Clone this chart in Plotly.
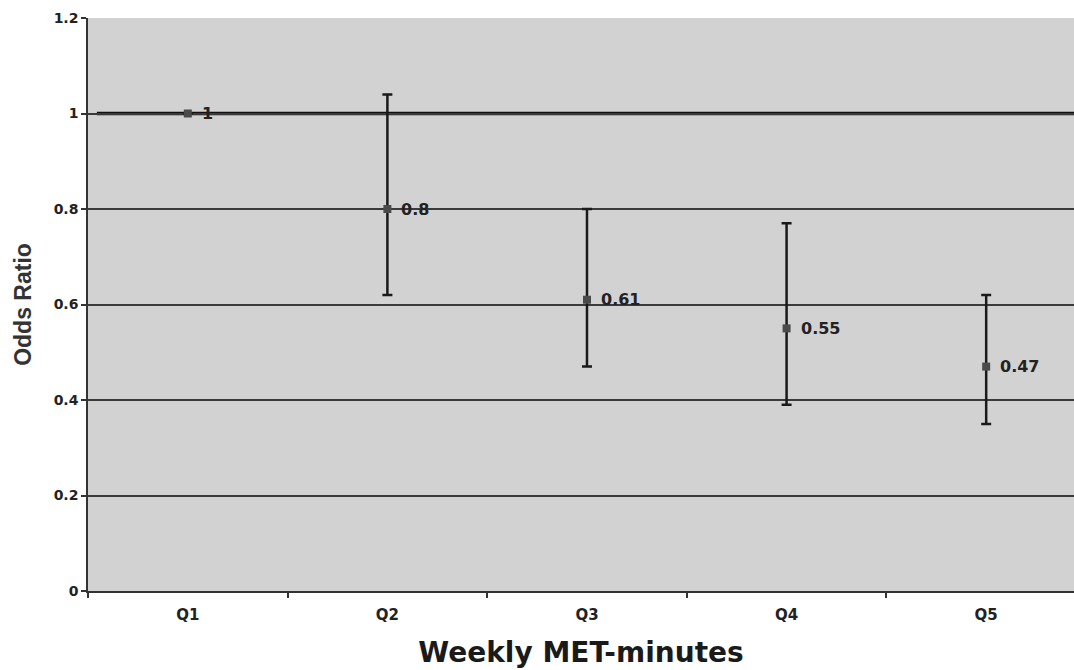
import plotly.graph_objects as go

categories = ["Q1", "Q2", "Q3", "Q4", "Q5"]
odds_ratio = [1.0, 0.80, 0.61, 0.55, 0.47]
ci_upper = [None, 1.04, 0.80, 0.77, 0.62]
ci_lower = [None, 0.62, 0.47, 0.39, 0.35]
point_labels = ["1", "0.8", "0.61", "0.55", "0.47"]
reference_value = 1.0
y_ticks = [0, 0.2, 0.4, 0.6, 0.8, 1.0, 1.2]
y_tick_text = ["0", "0.2", "0.4", "0.6", "0.8", "1", "1.2"]

err_plus = [None if u is None else u - v for u, v in zip(ci_upper, odds_ratio)]
err_minus = [None if l is None else v - l for l, v in zip(ci_lower, odds_ratio)]

HFONT = "DejaVu Sans"
fig = go.Figure()

fig.add_trace(go.Scatter(
    x=categories, y=odds_ratio, mode="markers",
    marker=dict(symbol="square", size=8, color="#4a4a4a"),
    error_y=dict(type="data", symmetric=False, array=err_plus, arrayminus=err_minus,
                 color="#1a1a1a", thickness=2.5, width=5),
    showlegend=False, cliponaxis=False,
))

for c, v, t in zip(categories, odds_ratio, point_labels):
    fig.add_annotation(x=c, y=v, text=t, showarrow=False, xanchor="left",
                       yanchor="middle", xshift=12,
                       font=dict(family=HFONT, size=16, color="#222222", weight="bold"))

fig.add_shape(type="line", xref="paper", yref="y", x0=0.009, x1=1,
              y0=reference_value, y1=reference_value,
              line=dict(color="#111111", width=3.5), layer="between")

fig.update_layout(
    width=1074, height=670,
    margin=dict(l=88, r=0, t=18, b=79),
    paper_bgcolor="white",
    plot_bgcolor="#d2d2d2",
    xaxis=dict(
        type="category", range=[-0.5, 4.44],
        tickson="boundaries", ticks="outside", ticklen=5, tickwidth=1.5,
        tickcolor="#333333", showgrid=False,
        showline=True, linecolor="#333333", linewidth=1.5,
        tickfont=dict(family=HFONT, size=15, color="#222222", weight="bold"),
        ticklabelstandoff=9,
        title=dict(text="Weekly MET-minutes", standoff=20,
                   font=dict(family=HFONT, size=28, color="#1a1a1a", weight="bold")),
    ),
    yaxis=dict(
        range=[0, 1.2], tickvals=y_ticks, ticktext=y_tick_text,
        ticks="outside", ticklen=5, tickwidth=1.5, tickcolor="#333333",
        showgrid=True, gridcolor="#3a3a3a", gridwidth=1.5,
        showline=True, linecolor="#333333", linewidth=1.5,
        zeroline=False,
        tickfont=dict(family=HFONT, size=14, color="#222222", weight="bold"),
        title=dict(text="Odds Ratio", standoff=16,
                   font=dict(family="Liberation Sans", size=23, color="#333333", weight="bold")),
    ),
)

fig.write_html("out.html")
